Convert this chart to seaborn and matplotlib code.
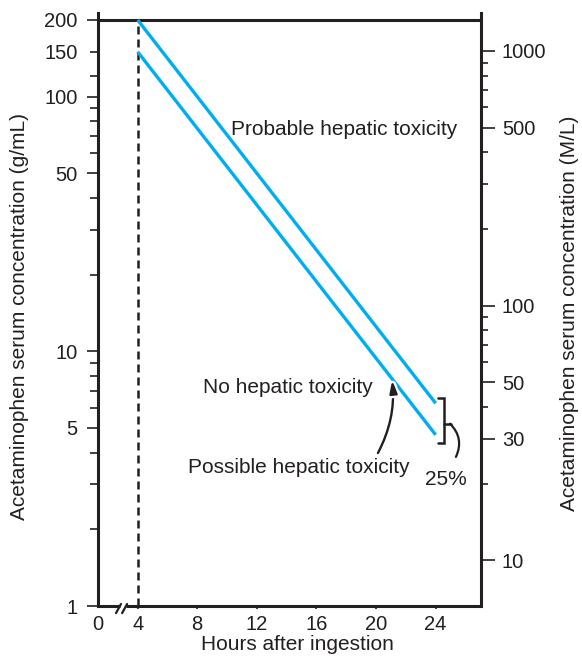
import numpy as np
import pandas as pd
import matplotlib.pyplot as plt
import matplotlib.patheffects as pe
from matplotlib.ticker import FixedLocator, FixedFormatter, NullFormatter
import seaborn as sns

# nomogram lines: hours after ingestion vs concentration (g/mL)
hours = [4, 24]
probable_line = [200, 6.25]
possible_line = [150, 4.7]

# axis ticks
x_ticks = [4, 8, 12, 16, 20, 24]
x_tick_labels = ["4", "8", "12", "16", "20", "24"]
x_zero_pos = 1.34          # broken axis: "0" sits at the corner
x_max = 27.04
y_min, y_max = 1, 213
left_major = [1, 5, 10, 50, 100, 200]
left_minor = [2, 3, 4, 6, 7, 8, 9, 20, 30, 40, 60, 70, 80, 90, 120, 150]
right_major = [10, 30, 50, 100, 500, 1000]
right_minor = [20, 40, 60, 70, 80, 90, 200, 300, 400, 600, 700, 800, 900]
umol_factor = 1000 / 151.16   # g/mL -> M/L

blue = "#00AEEF"
dark = "#231f20"

sns.set_style("ticks")
plt.rcParams["font.family"] = ["Liberation Sans", "DejaVu Sans"]
plt.rcParams["text.color"] = dark
plt.rcParams["axes.labelcolor"] = dark
plt.rcParams["xtick.color"] = dark
plt.rcParams["ytick.color"] = dark

fig = plt.figure(figsize=(5.82, 6.56), dpi=100)
ax = fig.add_axes([0.1684, 0.0762, 0.658, 0.904])

df = pd.DataFrame({
    "hours": hours + hours,
    "conc": probable_line + possible_line,
    "line": ["probable"] * 2 + ["possible"] * 2,
})
sns.lineplot(data=df, x="hours", y="conc", units="line", estimator=None,
             color=blue, lw=2.4, ax=ax, legend=False, zorder=3,
             solid_capstyle="butt")

ax.set_yscale("log")
ax.set_xlim(x_zero_pos, x_max)
ax.set_ylim(y_min, y_max)

# 4-hour dashed line and 200 top line
ax.vlines(hours[0], y_min, probable_line[0], colors=dark, lw=1.8,
          linestyles=(0, (3.2, 2.0)), zorder=2)
ax.axhline(probable_line[0], color=dark, lw=2.2, zorder=2)

# spines
for s in ["top", "right", "bottom"]:
    ax.spines[s].set_visible(False)
ax.spines["left"].set_linewidth(2.2)
ax.spines["left"].set_color(dark)

# broken bottom axis
kw = dict(transform=ax.transAxes, clip_on=False, color=dark, lw=2.2)
ax.plot([0, 0.057], [0, 0], solid_capstyle="butt", **kw)
ax.plot([0.073, 1.003], [0, 0], solid_capstyle="butt", **kw)
ax.plot([0.047, 0.060], [-0.012, 0.0034], lw=1.6, transform=ax.transAxes,
        clip_on=False, color=dark)
ax.plot([0.063, 0.076], [-0.012, 0.0034], lw=1.6, transform=ax.transAxes,
        clip_on=False, color=dark)

# x ticks
ax.set_xticks([x_zero_pos] + x_ticks)
ax.set_xticklabels(["0"] + x_tick_labels)
ax.tick_params(axis="x", direction="out", length=2.5, width=1.2, pad=4,
               labelsize=14.5)
ax.xaxis.get_major_ticks()[0].tick1line.set_visible(False)
ax.set_xlabel("Hours after ingestion", fontsize=15)
ax.xaxis.set_label_coords(0.522, -0.049)

# left y ticks
ax.yaxis.set_major_locator(FixedLocator(left_major))
ax.yaxis.set_major_formatter(FixedFormatter([str(v) for v in left_major]))
ax.yaxis.set_minor_locator(FixedLocator(left_minor))
ax.yaxis.set_minor_formatter(FixedFormatter(
    ["150" if v == 150 else "" for v in left_minor]))
ax.tick_params(axis="y", which="major", direction="out", length=8, width=1.2,
               pad=6.5, labelsize=14.5)
ax.tick_params(axis="y", which="minor", direction="out", length=5.5, width=1.2,
               pad=9, labelsize=14.5)
for t in ax.yaxis.get_major_ticks():
    if t.get_loc() in (1, 200):
        t.tick1line.set_visible(False)
ax.set_ylabel("Acetaminophen serum concentration (g/mL)", fontsize=15)
ax.yaxis.set_label_coords(-0.18, 0.489)

# right axis in M/L
ax2 = ax.twinx()
ax2.set_yscale("log")
ax2.set_ylim(y_min * umol_factor, y_max * umol_factor)
for s in ["top", "left", "bottom"]:
    ax2.spines[s].set_visible(False)
ax2.spines["right"].set_linewidth(2.2)
ax2.spines["right"].set_color(dark)
ax2.yaxis.set_major_locator(FixedLocator(right_major))
ax2.yaxis.set_major_formatter(FixedFormatter([str(v) for v in right_major]))
ax2.yaxis.set_minor_locator(FixedLocator(right_minor))
ax2.yaxis.set_minor_formatter(NullFormatter())
ax2.tick_params(axis="y", which="major", direction="out", length=10, width=1.2,
                pad=5, labelsize=14.5)
ax2.tick_params(axis="y", which="minor", direction="out", length=5, width=1.2)
ax2.set_ylabel("Acetaminophen serum concentration (M/L)", fontsize=15)
ax2.yaxis.set_label_coords(1.206, 0.493)

# region labels
ax.text(0.642, 0.803, "Probable hepatic toxicity", transform=ax.transAxes,
        ha="center", va="center", fontsize=15)
ax.text(0.496, 0.368, "No hepatic toxicity", transform=ax.transAxes,
        ha="center", va="center", fontsize=15)
ax.text(0.815, 0.233, "Possible hepatic toxicity", transform=ax.transAxes,
        ha="right", va="center", fontsize=15)
ax.text(0.909, 0.214, "25%", transform=ax.transAxes,
        ha="center", va="center", fontsize=15)

# curved arrow crossing the lower line
ax.annotate("", xy=(0.768, 0.381), xytext=(0.731, 0.258),
            xycoords="axes fraction", textcoords="axes fraction",
            arrowprops=dict(arrowstyle="-|>,head_length=0.75,head_width=0.22",
                            mutation_scale=10, lw=1.7, color=dark,
                            connectionstyle="arc3,rad=0.15",
                            shrinkA=0, shrinkB=0,
                            path_effects=[pe.withStroke(linewidth=5,
                                                        foreground="white")]),
            zorder=5)

# 25% bracket at the line ends
b_top = probable_line[1] * 1.046
b_bot = possible_line[1] / 1.075
b_mid = 5.2
ax.plot([24.15, 24.55, 24.55, 24.15], [b_top, b_top, b_bot, b_bot],
        color=dark, lw=1.8, clip_on=False, solid_joinstyle="miter")
ax.plot([24.55, 25.0], [b_mid, b_mid], color=dark, lw=1.8, clip_on=False)
ax.annotate("", xy=(25.36, 3.85), xytext=(24.96, b_mid),
            xycoords="data", textcoords="data",
            arrowprops=dict(arrowstyle="-", lw=1.6, color=dark,
                            connectionstyle="arc3,rad=-0.35",
                            shrinkA=0, shrinkB=0))

plt.savefig("out.png", dpi=100)
